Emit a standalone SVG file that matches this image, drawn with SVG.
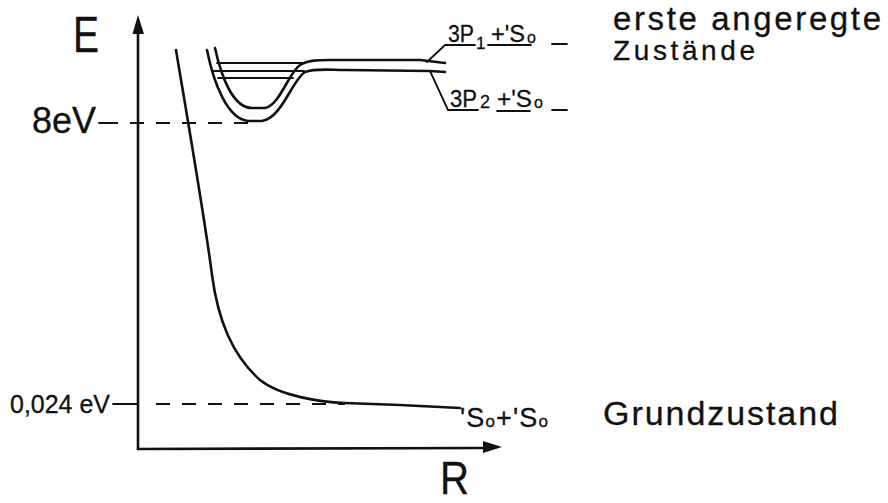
<svg xmlns="http://www.w3.org/2000/svg" width="888" height="503" viewBox="0 0 888 503">
<style>
.ln{fill:none;stroke:#111;stroke-linecap:round;stroke-linejoin:round}
.ax{stroke-width:2.6}
.cv{stroke-width:2.6}
.th{stroke-width:1.8}
.da{stroke-width:2;stroke-dasharray:14 12;stroke-linecap:butt}
.t{font-family:"Liberation Sans","DejaVu Sans",Arial,sans-serif;fill:#111;stroke:#111;stroke-width:0.3}
</style>
<rect width="888" height="503" fill="#fff"/>
<g id="axes">
<line class="ln ax" x1="138" y1="30" x2="138" y2="449"/>
<polygon points="138,15 132.5,34 144,34" fill="#111"/>
<line class="ln ax" x1="138" y1="449" x2="486" y2="448"/>
<polygon points="502,447 483,441 483,453" fill="#111"/>
<text class="t" x="73" y="52" font-size="50" textLength="26" lengthAdjust="spacingAndGlyphs">E</text>
<text class="t" x="440" y="494" font-size="46" textLength="29" lengthAdjust="spacingAndGlyphs">R</text>
</g>
<g id="connectors">
<line class="ln th" x1="99" y1="123" x2="104" y2="123"/>
<line class="ln da" x1="104" y1="123" x2="250" y2="123"/>
<line class="ln th" x1="113" y1="404" x2="138" y2="404"/>
<line class="ln da" x1="156" y1="404" x2="345" y2="404"/>
</g>
<g id="ground-curve">
<path class="ln cv" d="M176,50 C186,110 205,220 212,275 C218,320 232,355 260,380 C280,396 320,402 345,403 L400,405 L460,408"/>
<text class="t" x="460" y="427" font-size="27" textLength="88" lengthAdjust="spacing">'S<tspan font-size="17">o</tspan>+'S<tspan font-size="17">o</tspan></text>
</g>
<g id="excited-curves">
<path class="ln cv" d="M207,50 C214,85 228,119 248,121 L262,121 C282,118 292,80 305,72 C315,68 330,70 345,70 L430,71 L445,72"/>
<path class="ln cv" d="M215,48 C222,80 234,108 252,108 L265,108 C280,105 289,72 300,65 C308,60 318,60 330,60 L420,60 L445,63"/>
<line class="ln th" x1="217" y1="63" x2="302" y2="63"/>
<line class="ln th" x1="212" y1="71" x2="304" y2="71"/>
<line class="ln th" x1="218" y1="78" x2="293" y2="78"/>
</g>
<g id="label-3P1">
<polyline class="ln th" points="427,62 445,45 475,45"/>
<line class="ln th" x1="488" y1="45" x2="531" y2="45"/>
<line class="ln th" x1="552" y1="44" x2="567" y2="44"/>
<text class="t" x="448" y="42" font-size="24" textLength="26" lengthAdjust="spacingAndGlyphs">3P</text>
<text class="t" x="476" y="49" font-size="17">1</text>
<text class="t" x="491" y="42" font-size="23" textLength="34" lengthAdjust="spacingAndGlyphs">+'S</text>
<text class="t" x="527" y="43" font-size="16">o</text>
</g>
<g id="label-3P2">
<polyline class="ln th" points="430,71 448,110 478,110"/>
<line class="ln th" x1="497" y1="111" x2="530" y2="111"/>
<line class="ln th" x1="552" y1="110" x2="567" y2="110"/>
<text class="t" x="450" y="107" font-size="24" textLength="27" lengthAdjust="spacingAndGlyphs">3P</text>
<text class="t" x="480" y="108" font-size="18">2</text>
<text class="t" x="497" y="107" font-size="23" textLength="35" lengthAdjust="spacingAndGlyphs">+'S</text>
<text class="t" x="534" y="108" font-size="16">o</text>
</g>
<g id="labels">
<text class="t" x="32" y="133" font-size="36" textLength="64" lengthAdjust="spacingAndGlyphs">8eV</text>
<text class="t" x="10" y="413" font-size="25" textLength="100" lengthAdjust="spacingAndGlyphs">0,024 eV</text>
<text class="t" x="613" y="30" font-size="33" textLength="268" lengthAdjust="spacing">erste angeregte</text>
<text class="t" x="613" y="60" font-size="28" textLength="142" lengthAdjust="spacing">Zustände</text>
<text class="t" x="603" y="425" font-size="34" textLength="235" lengthAdjust="spacing">Grundzustand</text>
</g>
</svg>
